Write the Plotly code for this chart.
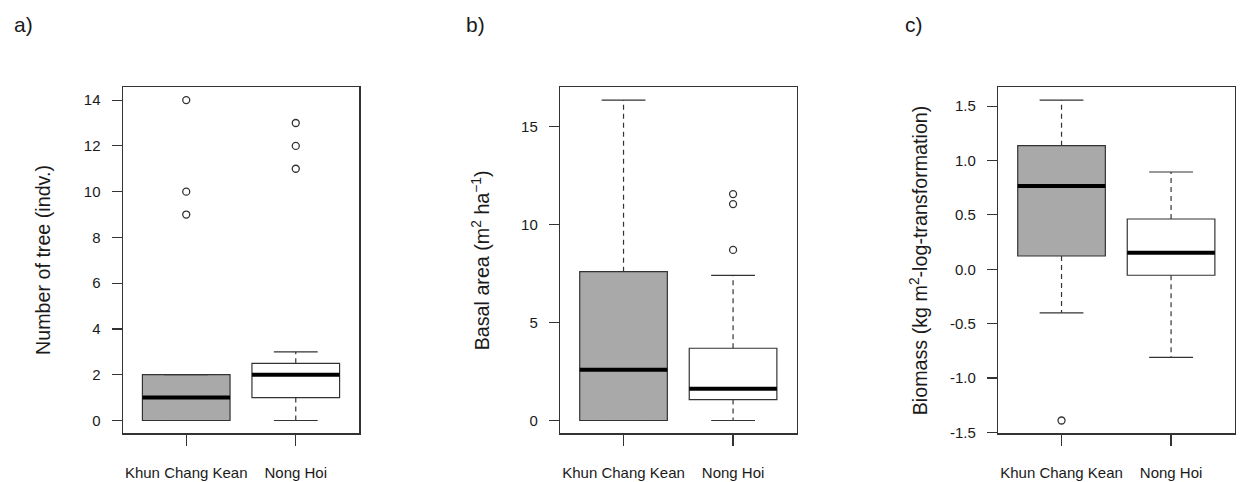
import plotly.graph_objects as go

# ---------------- data ----------------
categories = ["Khun Chang Kean", "Nong Hoi"]
positions = [1, 2]
box_fill = ["#A9A9A9", "#FFFFFF"]

# a) Number of tree (indv.)
a_q1 = [0, 1]
a_med = [1, 2]
a_q3 = [2, 2.5]
a_low = [0, 0]
a_up = [2, 3]
a_out = [[9, 10, 14], [11, 12, 13]]
a_ticks = [0, 2, 4, 6, 8, 10, 12, 14]

# b) Basal area
b_q1 = [0, 1.07]
b_med = [2.59, 1.62]
b_q3 = [7.60, 3.69]
b_low = [0, 0]
b_up = [16.36, 7.41]
b_out = [[], [8.71, 11.05, 11.56]]
b_ticks = [0, 5, 10, 15]

# c) Biomass
c_q1 = [0.122, -0.055]
c_med = [0.766, 0.153]
c_q3 = [1.136, 0.462]
c_low = [-0.40, -0.809]
c_up = [1.555, 0.894]
c_out = [[-1.39], []]
c_ticks = [-1.5, -1.0, -0.5, 0.0, 0.5, 1.0, 1.5]

panel_labels = ["a)", "b)", "c)"]
y_titles = ["Number of tree (indv.)",
            "Basal area (m<sup>2</sup> ha<sup>\u22121</sup>)",
            "Biomass (kg m<sup>2</sup>-log-transformation)"]

# ---------------- styling ----------------
W, H = 1241, 482
FONT = "Liberation Sans, Arial, sans-serif"
LINE = "#333333"
TXT = "#1a1a1a"
BOXW = 0.8
CAPW = 0.4

panels = [
    dict(q1=a_q1, med=a_med, q3=a_q3, low=a_low, up=a_up, out=a_out, ticks=a_ticks, fmt="{:g}"),
    dict(q1=b_q1, med=b_med, q3=b_q3, low=b_low, up=b_up, out=b_out, ticks=b_ticks, fmt="{:g}"),
    dict(q1=c_q1, med=c_med, q3=c_q3, low=c_low, up=c_up, out=c_out, ticks=c_ticks, fmt="{:.1f}"),
]

left_px = [122.7, 560.0, 998.0]
plot_w_px = 236.6
top_px, bot_px = 87.3, 433.3
label_x_px = [12, 464, 903]
label_y_px = 24

fig = go.Figure()
layout = dict(
    width=W, height=H,
    margin=dict(l=0, r=0, t=0, b=0, autoexpand=False),
    paper_bgcolor="white", plot_bgcolor="white",
    showlegend=False, boxmode="overlay",
    font=dict(family=FONT, color=TXT),
)
annotations = []

for i, p in enumerate(panels):
    xa = "x" if i == 0 else f"x{i+1}"
    ya = "y" if i == 0 else f"y{i+1}"
    xkey = "xaxis" if i == 0 else f"xaxis{i+1}"
    ykey = "yaxis" if i == 0 else f"yaxis{i+1}"

    for j, pos in enumerate(positions):
        # box body
        fig.add_trace(go.Box(
            x=[pos], q1=[p["q1"][j]], median=[p["med"][j]], q3=[p["q3"][j]],
            lowerfence=[p["q1"][j]], upperfence=[p["q3"][j]],
            width=BOXW, whiskerwidth=0, fillcolor=box_fill[j],
            line=dict(color=LINE, width=1.2), boxpoints=False,
            xaxis=xa, yaxis=ya, hoverinfo="skip",
        ))
        # whiskers (dashed)
        fig.add_trace(go.Scatter(
            x=[pos, pos, None, pos, pos],
            y=[p["q3"][j], p["up"][j], None, p["q1"][j], p["low"][j]],
            mode="lines", line=dict(color=LINE, width=1.2, dash="5px,4px"),
            xaxis=xa, yaxis=ya, hoverinfo="skip",
        ))
        # caps
        fig.add_trace(go.Scatter(
            x=[pos - CAPW / 2, pos + CAPW / 2, None, pos - CAPW / 2, pos + CAPW / 2],
            y=[p["up"][j], p["up"][j], None, p["low"][j], p["low"][j]],
            mode="lines", line=dict(color=LINE, width=1.2),
            xaxis=xa, yaxis=ya, hoverinfo="skip",
        ))
        # thick median
        fig.add_trace(go.Scatter(
            x=[pos - BOXW / 2, pos + BOXW / 2],
            y=[p["med"][j], p["med"][j]],
            mode="lines", line=dict(color="black", width=4),
            xaxis=xa, yaxis=ya, hoverinfo="skip",
        ))
        # outliers
        if p["out"][j]:
            fig.add_trace(go.Scatter(
                x=[pos] * len(p["out"][j]), y=p["out"][j], mode="markers",
                marker=dict(symbol="circle-open", size=7, color=LINE, line=dict(width=1.3)),
                xaxis=xa, yaxis=ya, hoverinfo="skip",
            ))

    # axis ranges (R style: data range extended by 4%)
    vals = p["low"] + p["up"] + [v for o in p["out"] for v in o]
    lo, hi = min(vals), max(vals)
    pad = (hi - lo) * 0.04

    x0 = left_px[i] / W
    x1 = min(1.0, (left_px[i] + plot_w_px) / W)
    layout[xkey] = dict(
        domain=[x0, x1], range=[0.42, 2.58], anchor=ya, automargin=False,
        tickvals=positions, ticktext=categories,
        ticks="outside", ticklen=11, tickcolor=LINE, tickwidth=1.2,
        ticklabelstandoff=14,
        showline=True, mirror=True, linecolor=LINE, linewidth=1.2,
        showgrid=False, zeroline=False, fixedrange=True,
        tickfont=dict(size=15, family=FONT, color=TXT),
    )
    layout[ykey] = dict(
        domain=[(H - bot_px) / H, (H - top_px) / H], range=[lo - pad, hi + pad],
        anchor=xa, automargin=False,
        tickvals=p["ticks"], ticktext=[p["fmt"].format(v) for v in p["ticks"]],
        ticks="outside", ticklen=10, tickcolor=LINE, tickwidth=1.2,
        ticklabelstandoff=8,
        showline=True, mirror=True, linecolor=LINE, linewidth=1.2,
        showgrid=False, zeroline=False, fixedrange=True,
        tickfont=dict(size=15, family=FONT, color=TXT),
    )

    # y-axis title (R places it at a fixed distance from the plot edge)
    annotations.append(dict(
        text=y_titles[i], textangle=-90,
        xref=f"{xa} domain", yref=f"{ya} domain",
        x=0, y=0.5, xanchor="center", yanchor="middle", xshift=-79,
        showarrow=False, font=dict(size=19.7, family=FONT, color=TXT),
    ))
    # panel letter
    annotations.append(dict(
        text=panel_labels[i], xref="paper", yref="paper",
        x=label_x_px[i] / W, y=1 - label_y_px / H, xanchor="left", yanchor="middle",
        showarrow=False, font=dict(size=21, family=FONT, color=TXT),
    ))

layout["annotations"] = annotations
fig.update_layout(**layout)
fig.write_html(
    "out.html",
    config={"displayModeBar": False, "staticPlot": True},
    post_script="document.body.style.margin='0';document.body.style.overflow='hidden';",
)
